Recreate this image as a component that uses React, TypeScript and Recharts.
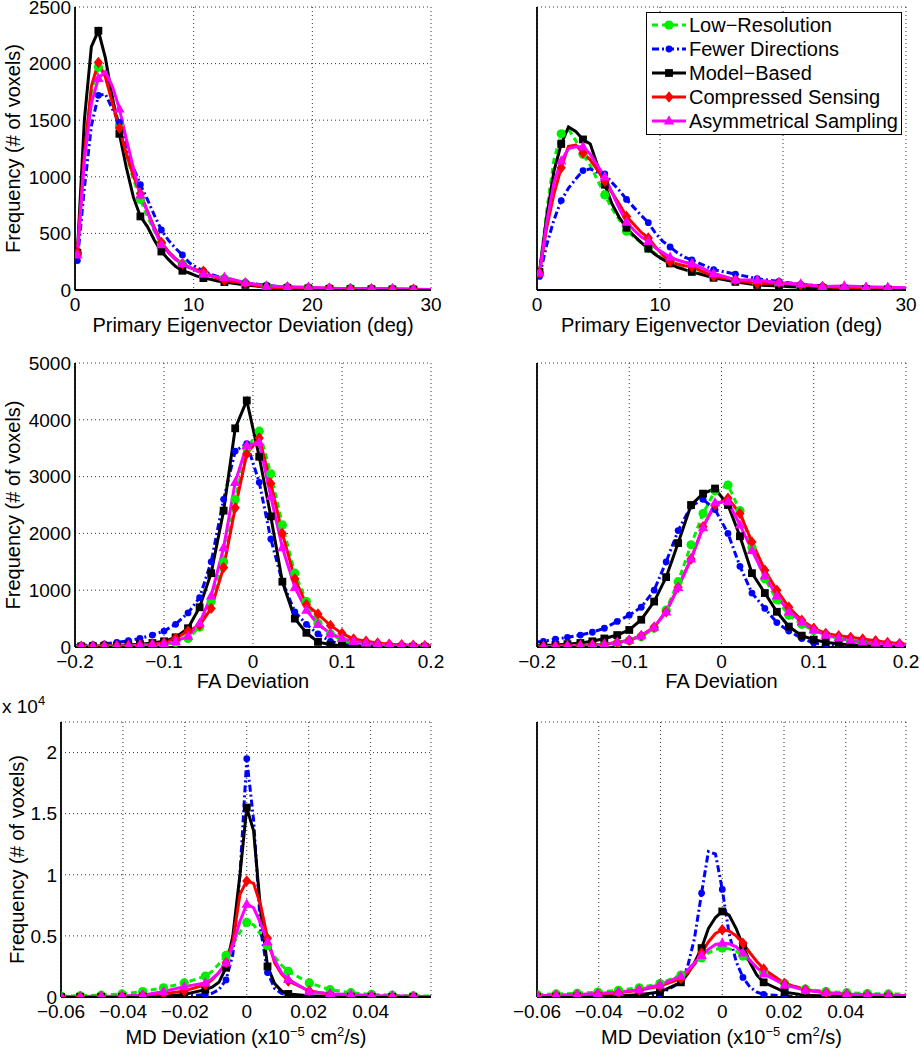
import React from "react";
import { LineChart, Line, XAxis, YAxis, CartesianGrid, Label } from "recharts";

const FONT = "'Liberation Sans', Arial, Helvetica, sans-serif";
const TICK_FS = 19;
const TITLE_FS = 20;

// x positions of the histogram points (finer near the peaks)
const pevX = [
  0.2, 0.79, 1.38, 1.97, 2.56, 3.15, 3.74, 4.33, 4.92, 5.51, 6.1, 6.69, 7.28, 7.87, 8.46, 9.05,
  9.64, 10.23, 10.82, 11.41, 12.0, 12.59, 14.36, 16.13, 17.9, 19.67, 21.44, 23.21, 24.98, 26.75,
  28.52, 30,
];
const faX = [
  -0.2, -0.193, -0.18, -0.167, -0.153, -0.14, -0.127, -0.113, -0.1, -0.087, -0.073, -0.06, -0.047,
  -0.033, -0.02, -0.007, 0.007, 0.02, 0.033, 0.047, 0.06, 0.073, 0.087, 0.1, 0.113, 0.127, 0.14,
  0.153, 0.167, 0.18, 0.193, 0.2,
];
const mdX = [
  -0.06, -0.0538, -0.047, -0.0403, -0.0336, -0.0269, -0.0202, -0.0134, -0.0112, -0.009, -0.0067,
  -0.0045, -0.0022, 0, 0.0022, 0.0045, 0.0067, 0.009, 0.0112, 0.0134, 0.0202, 0.0269, 0.0336,
  0.0403, 0.047, 0.0538, 0.0595,
];

// primary eigenvector deviation, left column
const pevLeftLowRes = [320, 1200, 1750, 1970, 1900, 1700, 1450, 1200, 980, 800, 650, 520, 410, 330, 270, 230, 195, 170, 150, 130, 115, 100, 60, 35, 25, 20, 15, 12, 10, 8, 6, 5];
const pevLeftFewer = [260, 900, 1450, 1720, 1730, 1600, 1480, 1250, 1080, 930, 800, 660, 530, 440, 370, 310, 240, 200, 170, 140, 120, 100, 65, 40, 25, 18, 12, 10, 8, 6, 5, 4];
const pevLeftModel = [330, 1500, 2150, 2290, 2050, 1700, 1380, 1080, 820, 650, 560, 440, 340, 270, 210, 170, 150, 125, 105, 95, 80, 70, 45, 25, 18, 14, 10, 8, 6, 5, 4, 3];
const pevLeftCS = [330, 1200, 1800, 2010, 1880, 1650, 1430, 1200, 1010, 850, 700, 550, 420, 340, 280, 230, 200, 180, 165, 130, 100, 85, 60, 20, 25, 18, 15, 12, 10, 8, 6, 5];
const pevLeftAsym = [310, 1150, 1650, 1870, 1930, 1800, 1600, 1330, 1080, 840, 690, 530, 400, 330, 270, 235, 200, 170, 141, 125, 115, 112, 65, 35, 29, 24, 15, 12, 12, 12, 6, 5];

// primary eigenvector deviation, right column
const pevRightLowRes = [150, 700, 1150, 1380, 1420, 1320, 1200, 1100, 970, 840, 720, 620, 520, 470, 420, 370, 320, 280, 240, 210, 185, 165, 115, 80, 50, 35, 25, 18, 12, 8, 6, 5];
const pevRightFewer = [120, 400, 620, 790, 900, 980, 1055, 1070, 1040, 1025, 950, 880, 800, 730, 660, 595, 500, 430, 380, 330, 290, 265, 180, 140, 100, 75, 50, 35, 25, 15, 10, 8];
const pevRightModel = [160, 650, 1050, 1290, 1440, 1400, 1330, 1290, 1100, 930, 760, 640, 550, 480, 420, 365, 310, 270, 235, 200, 180, 160, 108, 72, 45, 35, 25, 18, 12, 8, 5, 4];
const pevRightCS = [150, 550, 850, 1080, 1270, 1280, 1210, 1150, 1060, 960, 860, 760, 650, 580, 510, 460, 380, 310, 250, 230, 215, 205, 120, 88, 55, 65, 45, 30, 20, 12, 10, 8];
const pevRightAsym = [150, 600, 950, 1140, 1250, 1265, 1265, 1200, 1100, 1000, 860, 720, 600, 530, 470, 430, 370, 330, 290, 265, 245, 235, 147, 90, 88, 65, 53, 30, 35, 28, 24, 20];

// FA deviation, left column
const faLeftLowRes = [5, 5, 8, 10, 12, 15, 20, 30, 40, 80, 150, 350, 800, 1500, 2600, 3500, 3800, 3050, 2150, 1300, 800, 420, 230, 120, 70, 40, 25, 15, 10, 8, 5, 5];
const faLeftFewer = [20, 25, 40, 55, 80, 110, 150, 210, 280, 400, 600, 870, 1500, 2600, 3450, 3580, 2900, 1900, 1150, 620, 400, 230, 100, 50, 25, 15, 10, 8, 5, 5, 5, 5];
const faLeftModel = [10, 12, 15, 20, 25, 35, 50, 70, 100, 170, 330, 700, 1300, 2400, 3850, 4340, 3350, 2300, 1150, 500, 250, 90, 40, 20, 12, 8, 6, 5, 5, 5, 5, 5];
const faLeftCS = [10, 15, 15, 20, 20, 25, 35, 50, 70, 150, 280, 380, 680, 1400, 2450, 3400, 3680, 2880, 2000, 1200, 750, 580, 380, 240, 140, 100, 70, 50, 40, 30, 25, 20];
const faLeftAsym = [10, 10, 12, 15, 18, 22, 30, 45, 60, 100, 190, 420, 900, 1750, 2900, 3550, 3600, 2650, 1750, 1050, 650, 400, 240, 150, 100, 70, 50, 40, 30, 25, 20, 20];

// FA deviation, right column
const faRightLowRes = [5, 5, 10, 15, 20, 30, 45, 70, 110, 180, 330, 650, 1150, 1800, 2350, 2750, 2850, 2400, 1750, 1200, 830, 560, 400, 290, 210, 150, 110, 80, 60, 45, 35, 30];
const faRightFewer = [90, 100, 140, 170, 210, 260, 330, 450, 560, 700, 1000, 1500, 2050, 2480, 2600, 2420, 2000, 1420, 950, 680, 430, 280, 150, 70, 40, 25, 15, 10, 8, 5, 5, 5];
const faRightModel = [20, 25, 35, 50, 70, 100, 150, 210, 300, 480, 800, 1230, 1830, 2500, 2700, 2790, 2500, 1950, 1300, 950, 620, 360, 200, 130, 85, 55, 40, 25, 15, 10, 8, 5];
const faRightCS = [5, 5, 15, 20, 25, 35, 50, 80, 120, 200, 350, 620, 1050, 1550, 2120, 2500, 2620, 2350, 1850, 1350, 1000, 700, 470, 330, 240, 200, 170, 140, 110, 80, 60, 50];
const faRightAsym = [5, 8, 12, 18, 25, 35, 50, 80, 120, 200, 350, 620, 1050, 1550, 2100, 2540, 2560, 2150, 1700, 1250, 900, 620, 440, 300, 210, 160, 120, 90, 70, 55, 45, 40];

// MD deviation, left column
const mdLeftLowRes = [80, 100, 150, 250, 450, 750, 1150, 1700, 2100, 2700, 3400, 4300, 5300, 6100, 5900, 5100, 4200, 3300, 2600, 2100, 1150, 600, 350, 220, 150, 100, 80];
const mdLeftFewer = [10, 10, 15, 20, 30, 40, 60, 200, 300, 600, 1400, 3500, 10000, 19500, 14500, 5500, 2000, 700, 300, 150, 50, 30, 20, 15, 10, 10, 10];
const mdLeftModel = [10, 10, 15, 20, 30, 60, 200, 600, 800, 1200, 2400, 5000, 10000, 15500, 13600, 7000, 2500, 1100, 500, 250, 100, 50, 30, 20, 15, 10, 10];
const mdLeftCS = [10, 20, 30, 60, 120, 250, 500, 1000, 1400, 2000, 2800, 4500, 8400, 9500, 9300, 7500, 4800, 2800, 1900, 1300, 500, 200, 100, 50, 30, 15, 10];
const mdLeftAsym = [50, 50, 60, 80, 150, 450, 850, 1150, 1500, 2000, 2800, 4200, 6200, 7600, 7300, 6000, 4500, 3000, 2000, 1450, 450, 270, 200, 130, 100, 60, 50];

// MD deviation, right column
const mdRightLowRes = [200, 250, 300, 400, 550, 750, 1100, 1800, 2200, 2700, 3200, 3600, 3900, 4000, 3950, 3750, 3350, 2900, 2400, 2000, 1100, 650, 450, 350, 280, 250, 230];
const mdRightFewer = [30, 40, 50, 60, 80, 120, 250, 1200, 2500, 4800, 8500, 11900, 11700, 8800, 5200, 2900, 1600, 800, 400, 220, 80, 40, 30, 20, 15, 10, 10];
const mdRightModel = [20, 30, 40, 60, 100, 180, 400, 1200, 1900, 2800, 4000, 5600, 6500, 7000, 6700, 5600, 4200, 2800, 1800, 1200, 400, 150, 80, 50, 30, 20, 15];
const mdRightCS = [100, 120, 160, 250, 350, 550, 900, 1500, 2000, 2700, 3600, 4500, 5200, 5500, 5400, 5000, 4400, 3600, 2900, 2300, 1100, 600, 350, 230, 160, 110, 90];
const mdRightAsym = [130, 150, 200, 280, 400, 600, 1000, 1700, 2200, 2800, 3400, 3900, 4300, 4400, 4350, 4100, 3600, 3000, 2400, 1900, 1000, 550, 350, 250, 180, 140, 120];

// axis ticks
const pevTicks = [0, 10, 20, 30];
const faTicks = [-0.2, -0.1, 0, 0.1, 0.2];
const mdTicks = [-0.06, -0.04, -0.02, 0, 0.02, 0.04];
const pevYTicks = [0, 500, 1000, 1500, 2000, 2500];
const faYTicks = [0, 1000, 2000, 3000, 4000, 5000];
const mdYTicks = [0, 5000, 10000, 15000, 20000];

type MarkerKind = "circle" | "dot" | "square" | "diamond" | "triangle";

const SERIES: { key: string; name: string; color: string; dash?: string; marker: MarkerKind }[] = [
  { key: "lowRes", name: "Low\u2212Resolution", color: "#00ee00", dash: "6 4", marker: "circle" },
  { key: "fewer", name: "Fewer Directions", color: "#0000ff", dash: "7 3 2 3", marker: "dot" },
  { key: "model", name: "Model\u2212Based", color: "#000000", marker: "square" },
  { key: "cs", name: "Compressed Sensing", color: "#ff0000", marker: "diamond" },
  { key: "asym", name: "Asymmetrical Sampling", color: "#ff00ff", marker: "triangle" },
];

function toRows(xs: number[], cols: number[][]) {
  return xs.map((x, i) => {
    const row: Record<string, number> = { x };
    SERIES.forEach((s, si) => (row[s.key] = cols[si][i]));
    return row;
  });
}

function Marker({ kind, cx, cy, color }: { kind: MarkerKind; cx: number; cy: number; color: string }) {
  switch (kind) {
    case "circle":
      return <circle cx={cx} cy={cy} r={4.6} fill={color} />;
    case "dot":
      return <circle cx={cx} cy={cy} r={3.4} fill={color} />;
    case "square":
      return <rect x={cx - 3.9} y={cy - 3.9} width={7.8} height={7.8} fill={color} />;
    case "diamond":
      return <polygon points={`${cx},${cy - 5.7} ${cx + 4.6},${cy} ${cx},${cy + 5.7} ${cx - 4.6},${cy}`} fill={color} />;
    default:
      return <polygon points={`${cx},${cy - 5.7} ${cx + 5.2},${cy + 3.6} ${cx - 5.2},${cy + 3.6}`} fill={color} />;
  }
}

const signed = (v: number) => (v === 0 ? "0" : (v < 0 ? "\u2212" : "") + String(Math.abs(v)));

type PanelProps = {
  left: number;
  top: number;
  width: number;
  height: number;
  marginTop: number;
  marginRight: number;
  yAxisWidth: number;
  xAxisHeight: number;
  xs: number[];
  cols: number[][];
  xDomain: [number, number];
  xTicks: number[];
  yDomain: [number, number];
  yTicks: number[];
  yFormat?: (v: number) => string;
  showY: boolean;
  yLabelX: number;
  xTitle: React.ReactNode;
  xTitleDy: number;
  markStart: number;
  markStep: number;
  exponent?: boolean;
};

function Panel(p: PanelProps) {
  const rows = toRows(p.xs, p.cols);
  const isMark = (x: number) => {
    const k = (x - p.markStart) / p.markStep;
    return Math.abs(k - Math.round(k)) < 0.1;
  };
  const boxLine = { stroke: "#000", strokeWidth: 1.8 };
  const tickStyle = { fontSize: TICK_FS, fill: "#000", fontFamily: FONT };

  return (
    <div style={{ position: "absolute", left: p.left, top: p.top, width: p.width, height: p.height }}>
      <LineChart
        width={p.width}
        height={p.height}
        data={rows}
        margin={{ top: p.marginTop, right: p.marginRight, left: 0, bottom: 0 }}
      >
        <CartesianGrid stroke="#333" strokeWidth={1} strokeDasharray="1 3" />
        <XAxis
          dataKey="x"
          type="number"
          domain={p.xDomain}
          ticks={p.xTicks}
          interval={0}
          allowDataOverflow
          tickFormatter={signed}
          tick={tickStyle}
          tickLine={false}
          axisLine={boxLine}
          height={p.xAxisHeight}
        >
          <Label
            content={(lp: any) => {
              const vb = lp.viewBox || {};
              return (
                <text
                  x={vb.x + vb.width / 2}
                  y={vb.y + p.xTitleDy}
                  textAnchor="middle"
                  fontSize={TITLE_FS}
                  fontFamily={FONT}
                  fill="#000"
                >
                  {p.xTitle}
                </text>
              );
            }}
          />
        </XAxis>
        <XAxis xAxisId="top" orientation="top" type="number" domain={p.xDomain} allowDataOverflow tick={false} tickLine={false} axisLine={boxLine} height={0} />
        <YAxis
          type="number"
          domain={p.yDomain}
          ticks={p.yTicks}
          interval={0}
          allowDataOverflow
          tickFormatter={p.yFormat}
          tick={p.showY ? tickStyle : false}
          tickLine={false}
          tickSize={2}
          tickMargin={2}
          axisLine={boxLine}
          width={p.yAxisWidth}
        >
          {p.showY && (
            <Label
              content={(lp: any) => {
                const vb = lp.viewBox || {};
                const cy = vb.y + vb.height / 2;
                return (
                  <text
                    x={p.yLabelX}
                    y={cy}
                    transform={`rotate(-90 ${p.yLabelX} ${cy})`}
                    textAnchor="middle"
                    dominantBaseline="central"
                    fontSize={TITLE_FS}
                    fontFamily={FONT}
                    fill="#000"
                  >
                    Frequency (# of voxels)
                  </text>
                );
              }}
            />
          )}
          {p.exponent && (
            <Label
              content={(lp: any) => {
                const vb = lp.viewBox || {};
                return (
                  <text x={vb.x + 2} y={vb.y - 9} fontSize={TICK_FS} fontFamily={FONT} fill="#000">
                    x 10
                    <tspan dy={-8} fontSize={13}>
                      4
                    </tspan>
                  </text>
                );
              }}
            />
          )}
        </YAxis>
        <YAxis yAxisId="right" orientation="right" type="number" domain={p.yDomain} allowDataOverflow tick={false} tickLine={false} axisLine={boxLine} width={0} />
        {SERIES.map((s) => (
          <Line
            key={s.key}
            type="linear"
            dataKey={s.key}
            name={s.name}
            stroke={s.color}
            strokeWidth={3}
            strokeDasharray={s.dash}
            activeDot={false}
            isAnimationActive={false}
            dot={(dp: any) => {
              const k = `${s.key}-${dp.index}`;
              if (dp.cx == null || dp.cy == null || !dp.payload || !isMark(dp.payload.x)) return <g key={k} />;
              return <Marker key={k} kind={s.marker} cx={dp.cx} cy={dp.cy} color={s.color} />;
            }}
          />
        ))}
      </LineChart>
    </div>
  );
}

function LegendBox() {
  const rowY = [13, 37, 61, 85, 109];
  return (
    <svg
      width={256}
      height={123}
      style={{ position: "absolute", left: 646, top: 12, overflow: "visible" }}
    >
      <rect x={0.5} y={0.5} width={255} height={122} fill="#fff" stroke="#000" strokeWidth={1} />
      {SERIES.map((s, i) => (
        <g key={s.key}>
          <line x1={6} x2={40} y1={rowY[i]} y2={rowY[i]} stroke={s.color} strokeWidth={3} strokeDasharray={s.dash} />
          <Marker kind={s.marker} cx={23} cy={rowY[i]} color={s.color} />
          <text x={43} y={rowY[i]} dominantBaseline="central" fontSize={TITLE_FS} fontFamily={FONT} fill="#000">
            {s.name}
          </text>
        </g>
      ))}
    </svg>
  );
}

const pevTitle = "Primary Eigenvector Deviation (deg)";
const faTitle = "FA Deviation";
const mdTitle = (
  <>
    MD Deviation (x10
    <tspan dy={-8} fontSize={13}>
      {"\u22125"}
    </tspan>
    <tspan dy={8}> cm</tspan>
    <tspan dy={-8} fontSize={13}>
      2
    </tspan>
    <tspan dy={8}>/s)</tspan>
  </>
);

export default function App() {
  const mdFmt = (v: number) => String(v / 10000);
  return (
    <div
      style={{
        position: "absolute",
        left: 0,
        top: 0,
        width: 920,
        height: 1050,
        background: "#fff",
        fontFamily: FONT,
      }}
    >
      <Panel
        left={0} top={0} width={460} height={340} marginTop={7} marginRight={29}
        yAxisWidth={75} xAxisHeight={50}
        xs={pevX} cols={[pevLeftLowRes, pevLeftFewer, pevLeftModel, pevLeftCS, pevLeftAsym]}
        xDomain={[0, 30]} xTicks={pevTicks} yDomain={[0, 2500]} yTicks={pevYTicks}
        showY yLabelX={13} xTitle={pevTitle} xTitleDy={42} markStart={0.2} markStep={1.77}
      />
      <Panel
        left={460} top={0} width={460} height={340} marginTop={7} marginRight={14}
        yAxisWidth={77} xAxisHeight={50}
        xs={pevX} cols={[pevRightLowRes, pevRightFewer, pevRightModel, pevRightCS, pevRightAsym]}
        xDomain={[0, 30]} xTicks={pevTicks} yDomain={[0, 2500]} yTicks={pevYTicks}
        showY={false} yLabelX={13} xTitle={pevTitle} xTitleDy={42} markStart={0.2} markStep={1.77}
      />
      <Panel
        left={0} top={340} width={460} height={356} marginTop={23} marginRight={29}
        yAxisWidth={75} xAxisHeight={49}
        xs={faX} cols={[faLeftLowRes, faLeftFewer, faLeftModel, faLeftCS, faLeftAsym]}
        xDomain={[-0.2, 0.2]} xTicks={faTicks} yDomain={[0, 5000]} yTicks={faYTicks}
        showY yLabelX={13} xTitle={faTitle} xTitleDy={41} markStart={-0.193} markStep={0.01333}
      />
      <Panel
        left={460} top={340} width={460} height={356} marginTop={23} marginRight={14}
        yAxisWidth={77} xAxisHeight={49}
        xs={faX} cols={[faRightLowRes, faRightFewer, faRightModel, faRightCS, faRightAsym]}
        xDomain={[-0.2, 0.2]} xTicks={faTicks} yDomain={[0, 5000]} yTicks={faYTicks}
        showY={false} yLabelX={13} xTitle={faTitle} xTitleDy={41} markStart={-0.193} markStep={0.01333}
      />
      <Panel
        left={0} top={690} width={460} height={360} marginTop={32} marginRight={29}
        yAxisWidth={61} xAxisHeight={53}
        xs={mdX} cols={[mdLeftLowRes, mdLeftFewer, mdLeftModel, mdLeftCS, mdLeftAsym]}
        xDomain={[-0.06, 0.0595]} xTicks={mdTicks} yDomain={[0, 22500]} yTicks={mdYTicks}
        yFormat={mdFmt} showY yLabelX={17} xTitle={mdTitle} xTitleDy={47}
        markStart={0} markStep={0.00672} exponent
      />
      <Panel
        left={460} top={690} width={460} height={360} marginTop={32} marginRight={14}
        yAxisWidth={77} xAxisHeight={53}
        xs={mdX} cols={[mdRightLowRes, mdRightFewer, mdRightModel, mdRightCS, mdRightAsym]}
        xDomain={[-0.06, 0.0595]} xTicks={mdTicks} yDomain={[0, 22500]} yTicks={mdYTicks}
        yFormat={mdFmt} showY={false} yLabelX={17} xTitle={mdTitle} xTitleDy={47}
        markStart={0} markStep={0.00672}
      />
      <LegendBox />
    </div>
  );
}
